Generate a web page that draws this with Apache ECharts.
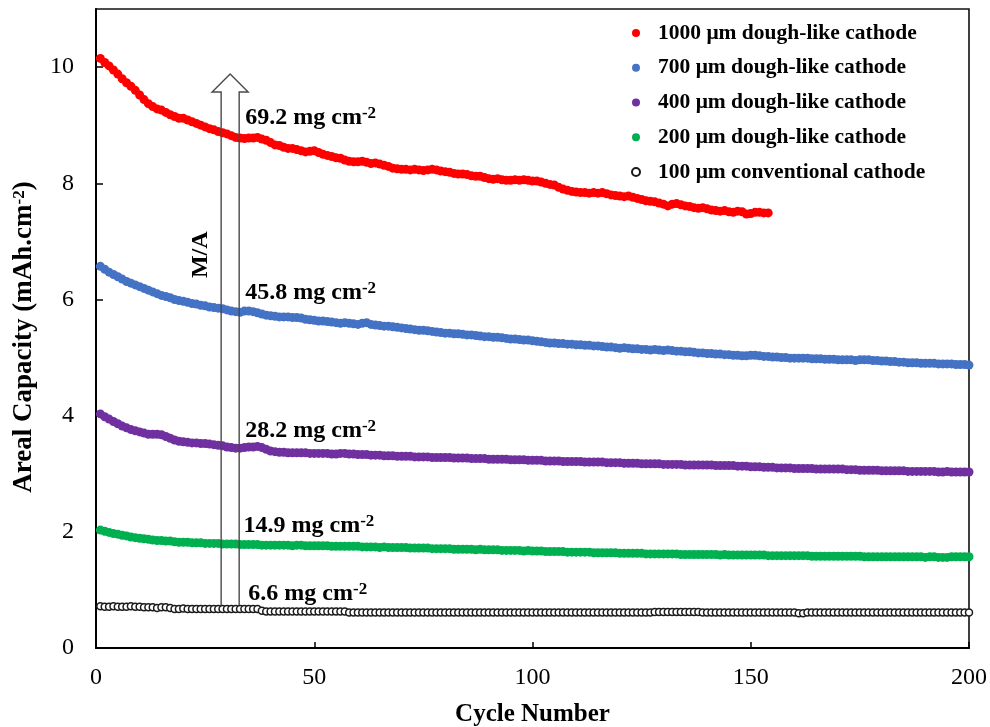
<!DOCTYPE html>
<html>
<head>
<meta charset="utf-8">
<script src="https://cdn.jsdelivr.net/npm/echarts@6/dist/echarts.min.js"></script>
<style>
  html, body { margin: 0; padding: 0; background: #ffffff; }
  #chart { width: 990px; height: 727px; }
</style>
</head>
<body>
<div id="chart"></div>
<script>
// Areal capacity (mAh/cm2) per cycle for each cathode thickness; index 0 = cycle 1
const seriesNames = [
  '1000 μm dough-like cathode',
  '700 μm dough-like cathode',
  '400 μm dough-like cathode',
  '200 μm dough-like cathode',
  '100 μm conventional cathode'
];

const cap1000 = [
  10.15,10.08,10.02,9.95,9.88,9.80,9.73,9.67,9.60,9.52,
  9.44,9.37,9.32,9.28,9.26,9.22,9.18,9.15,9.12,9.12,
  9.09,9.06,9.03,9.00,8.97,8.94,8.92,8.89,8.87,8.85,
  8.82,8.79,8.78,8.77,8.78,8.78,8.79,8.76,8.74,8.70,
  8.66,8.65,8.62,8.60,8.60,8.58,8.56,8.54,8.55,8.56,
  8.53,8.50,8.48,8.46,8.44,8.43,8.40,8.38,8.37,8.37,
  8.38,8.36,8.34,8.35,8.33,8.31,8.29,8.26,8.25,8.24,
  8.24,8.23,8.24,8.23,8.22,8.23,8.24,8.23,8.21,8.20,
  8.19,8.17,8.16,8.16,8.15,8.13,8.12,8.12,8.10,8.08,
  8.07,8.08,8.06,8.05,8.05,8.06,8.05,8.06,8.05,8.04,
  8.04,8.02,8.00,7.98,7.97,7.93,7.90,7.88,7.86,7.85,
  7.84,7.84,7.83,7.84,7.83,7.84,7.82,7.80,7.79,7.78,
  7.77,7.78,7.76,7.74,7.72,7.70,7.69,7.68,7.66,7.64,
  7.61,7.64,7.65,7.63,7.61,7.60,7.58,7.57,7.58,7.56,
  7.54,7.53,7.52,7.53,7.51,7.50,7.52,7.51,7.47,7.48,
  7.50,7.50,7.49,7.49
];

const cap700 = [
  6.57,6.52,6.47,6.43,6.39,6.35,6.31,6.28,6.25,6.22,
  6.19,6.16,6.13,6.10,6.07,6.05,6.03,6.00,5.98,5.97,
  5.95,5.93,5.92,5.90,5.89,5.87,5.86,5.85,5.84,5.82,
  5.80,5.79,5.78,5.80,5.80,5.79,5.77,5.75,5.73,5.72,
  5.71,5.70,5.70,5.70,5.69,5.69,5.68,5.66,5.65,5.64,
  5.63,5.63,5.62,5.61,5.60,5.59,5.60,5.59,5.58,5.57,
  5.59,5.60,5.57,5.56,5.55,5.54,5.54,5.53,5.52,5.51,
  5.50,5.49,5.48,5.47,5.47,5.46,5.45,5.44,5.43,5.42,
  5.42,5.41,5.41,5.40,5.39,5.39,5.38,5.37,5.36,5.36,
  5.35,5.35,5.34,5.33,5.32,5.32,5.31,5.30,5.30,5.29,
  5.28,5.27,5.26,5.25,5.25,5.24,5.24,5.23,5.23,5.22,
  5.22,5.21,5.21,5.20,5.20,5.19,5.18,5.18,5.17,5.16,
  5.17,5.16,5.15,5.15,5.14,5.14,5.13,5.14,5.13,5.12,
  5.13,5.12,5.11,5.11,5.10,5.10,5.09,5.08,5.08,5.07,
  5.07,5.06,5.06,5.05,5.05,5.04,5.04,5.03,5.03,5.04,
  5.04,5.03,5.02,5.02,5.01,5.01,5.00,5.00,4.99,4.99,
  4.99,4.99,4.99,4.98,4.98,4.98,4.97,4.97,4.97,4.96,
  4.96,4.96,4.96,4.95,4.96,4.96,4.96,4.95,4.95,4.94,
  4.94,4.93,4.93,4.92,4.92,4.91,4.91,4.91,4.90,4.90,
  4.90,4.90,4.89,4.89,4.89,4.89,4.88,4.88,4.88,4.87
];

const cap400 = [
  4.03,3.98,3.94,3.90,3.86,3.82,3.79,3.76,3.74,3.72,
  3.70,3.68,3.68,3.68,3.67,3.64,3.61,3.58,3.56,3.55,
  3.54,3.53,3.53,3.52,3.52,3.51,3.50,3.49,3.48,3.46,
  3.45,3.44,3.44,3.45,3.46,3.46,3.47,3.45,3.42,3.39,
  3.38,3.37,3.37,3.36,3.36,3.36,3.36,3.36,3.35,3.35,
  3.35,3.35,3.35,3.34,3.34,3.35,3.35,3.34,3.34,3.33,
  3.33,3.33,3.32,3.32,3.32,3.31,3.31,3.31,3.30,3.30,
  3.30,3.30,3.29,3.29,3.29,3.29,3.28,3.28,3.28,3.28,
  3.28,3.27,3.27,3.27,3.27,3.26,3.26,3.26,3.26,3.25,
  3.25,3.25,3.25,3.25,3.24,3.24,3.24,3.24,3.23,3.23,
  3.23,3.23,3.22,3.22,3.22,3.22,3.21,3.21,3.21,3.21,
  3.21,3.20,3.20,3.20,3.20,3.20,3.19,3.19,3.19,3.19,
  3.18,3.18,3.18,3.18,3.17,3.17,3.17,3.17,3.17,3.16,
  3.16,3.16,3.16,3.16,3.15,3.15,3.15,3.15,3.15,3.15,
  3.15,3.14,3.14,3.14,3.14,3.14,3.13,3.13,3.13,3.12,
  3.12,3.12,3.11,3.11,3.11,3.10,3.10,3.10,3.10,3.09,
  3.09,3.09,3.09,3.09,3.08,3.08,3.08,3.08,3.08,3.08,
  3.08,3.07,3.07,3.07,3.06,3.06,3.06,3.06,3.06,3.05,
  3.05,3.05,3.05,3.05,3.05,3.04,3.04,3.04,3.04,3.04,
  3.04,3.04,3.03,3.03,3.04,3.03,3.03,3.03,3.03,3.03
];

const cap200 = [
  2.03,2.01,1.99,1.97,1.96,1.94,1.93,1.91,1.90,1.89,
  1.88,1.87,1.86,1.85,1.85,1.84,1.84,1.83,1.82,1.82,
  1.82,1.81,1.81,1.81,1.80,1.80,1.80,1.80,1.79,1.79,
  1.79,1.79,1.78,1.78,1.78,1.78,1.78,1.77,1.77,1.77,
  1.77,1.77,1.77,1.77,1.76,1.77,1.77,1.76,1.76,1.76,
  1.76,1.76,1.76,1.75,1.75,1.75,1.75,1.75,1.75,1.75,
  1.74,1.74,1.74,1.74,1.73,1.74,1.73,1.73,1.73,1.73,
  1.73,1.72,1.72,1.72,1.72,1.72,1.71,1.71,1.71,1.71,
  1.71,1.70,1.70,1.70,1.70,1.70,1.69,1.70,1.69,1.69,
  1.69,1.69,1.68,1.68,1.68,1.68,1.68,1.67,1.68,1.67,
  1.67,1.67,1.66,1.66,1.66,1.66,1.66,1.65,1.65,1.65,
  1.65,1.65,1.65,1.64,1.64,1.64,1.64,1.64,1.64,1.63,
  1.63,1.63,1.63,1.63,1.63,1.62,1.62,1.62,1.62,1.62,
  1.62,1.62,1.62,1.61,1.61,1.61,1.61,1.61,1.61,1.61,
  1.61,1.61,1.60,1.61,1.60,1.60,1.60,1.60,1.60,1.60,
  1.60,1.60,1.60,1.59,1.59,1.59,1.59,1.59,1.59,1.59,
  1.59,1.59,1.59,1.58,1.58,1.58,1.58,1.58,1.58,1.58,
  1.58,1.58,1.58,1.58,1.58,1.57,1.57,1.57,1.57,1.57,
  1.57,1.57,1.57,1.57,1.57,1.57,1.57,1.57,1.57,1.56,
  1.57,1.57,1.56,1.56,1.56,1.57,1.57,1.57,1.57,1.57
];

const cap100 = [
  0.72,0.71,0.71,0.72,0.71,0.71,0.71,0.72,0.71,0.71,
  0.70,0.70,0.70,0.69,0.70,0.70,0.69,0.67,0.67,0.68,
  0.67,0.67,0.67,0.67,0.67,0.67,0.67,0.67,0.67,0.67,
  0.67,0.67,0.67,0.67,0.67,0.67,0.67,0.64,0.63,0.63,
  0.63,0.63,0.63,0.63,0.63,0.63,0.63,0.63,0.63,0.63,
  0.63,0.63,0.63,0.63,0.63,0.63,0.63,0.61,0.61,0.61,
  0.61,0.61,0.61,0.61,0.61,0.61,0.61,0.61,0.61,0.61,
  0.61,0.61,0.61,0.61,0.61,0.61,0.61,0.61,0.61,0.61,
  0.61,0.61,0.61,0.61,0.61,0.61,0.61,0.61,0.61,0.61,
  0.61,0.61,0.61,0.61,0.61,0.61,0.61,0.61,0.61,0.61,
  0.61,0.61,0.61,0.61,0.61,0.61,0.61,0.61,0.61,0.61,
  0.61,0.61,0.61,0.61,0.61,0.61,0.61,0.61,0.61,0.61,
  0.61,0.61,0.61,0.61,0.61,0.61,0.61,0.62,0.62,0.62,
  0.62,0.62,0.62,0.62,0.62,0.62,0.62,0.62,0.61,0.61,
  0.61,0.61,0.61,0.61,0.61,0.61,0.61,0.61,0.61,0.61,
  0.61,0.61,0.61,0.61,0.61,0.61,0.61,0.61,0.61,0.61,
  0.60,0.60,0.61,0.61,0.61,0.61,0.61,0.61,0.61,0.61,
  0.61,0.61,0.61,0.61,0.61,0.61,0.61,0.61,0.61,0.61,
  0.61,0.61,0.61,0.61,0.61,0.61,0.61,0.61,0.61,0.61,
  0.61,0.61,0.61,0.61,0.61,0.61,0.61,0.61,0.61,0.61
];

const loadingLabels = ['69.2 mg cm', '45.8 mg cm', '28.2 mg cm', '14.9 mg cm', '6.6 mg cm'];
const xTicks = [0, 50, 100, 150, 200];
const yTicks = [0, 2, 4, 6, 8, 10];

const FONT = '"Liberation Serif", "Times New Roman", serif';
const colors = ['#ff0000', '#4472c4', '#7030a0', '#00b050', '#000000'];
const capacities = [cap1000, cap700, cap400, cap200, cap100];

const chart = echarts.init(document.getElementById('chart'), null, { renderer: 'canvas' });

const series = capacities.map((arr, k) => {
  const hollow = k === 4;
  return {
    name: seriesNames[k],
    type: 'scatter',
    data: arr.map((v, i) => [i + 1, v]),
    symbol: 'circle',
    symbolSize: hollow ? 7 : 9,
    itemStyle: hollow
      ? { color: '#ffffff', borderColor: '#1a1a1a', borderWidth: 1.5, opacity: 1 }
      : { color: colors[k], opacity: 1 },
    emphasis: { disabled: true },
    z: 2 + (4 - k)
  };
});

chart.setOption({
  animation: false,
  backgroundColor: '#ffffff',
  grid: {
    left: 96, right: 21, top: 9, bottom: 79,
    containLabel: false,
    outerBoundsMode: 'none',
    show: true, borderColor: '#111', borderWidth: 1.6, backgroundColor: 'transparent'
  },
  legend: {
    orient: 'vertical',
    left: 626, top: 17,
    itemWidth: 34, itemHeight: 8,
    itemGap: 12.75,
    data: seriesNames,
    selectedMode: false,
    textStyle: { fontFamily: FONT, fontWeight: 'bold', fontSize: 21.5, lineHeight: 22, color: '#000' }
  },
  xAxis: {
    type: 'value',
    min: xTicks[0], max: xTicks[xTicks.length - 1], interval: 50,
    name: 'Cycle Number',
    nameLocation: 'middle', nameGap: 54,
    nameTextStyle: { fontFamily: FONT, fontWeight: 'bold', fontSize: 25, color: '#000' },
    axisLine: { onZero: false, lineStyle: { color: '#000', width: 2 } },
    axisTick: { inside: true, length: 6, lineStyle: { color: '#000', width: 1.5 } },
    axisLabel: { margin: 18, fontFamily: FONT, fontSize: 24, color: '#000' },
    splitLine: { show: false }
  },
  yAxis: {
    type: 'value',
    min: yTicks[0], max: 11, interval: 2,
    name: 'Areal Capacity (mAh.cm{s|-2})',
    nameLocation: 'middle', nameGap: 58,
    nameTextStyle: {
      fontFamily: FONT, fontWeight: 'bold', fontSize: 27, color: '#000',
      padding: [0, 17, 0, 0],
      rich: { s: { fontFamily: FONT, fontWeight: 'bold', fontSize: 17, verticalAlign: 'top', color: '#000' } }
    },
    axisLine: { onZero: false, lineStyle: { color: '#000', width: 2 } },
    axisTick: { inside: true, length: 7, lineStyle: { color: '#000', width: 1.5 } },
    axisLabel: {
      margin: 22, fontFamily: FONT, fontSize: 24, color: '#000',
      showMaxLabel: false,
      formatter: v => (yTicks.indexOf(v) >= 0 ? String(v) : '')
    },
    splitLine: { show: false }
  },
  series: series
});

// Loading annotations and the M/A arrow, placed in data coordinates
const px = (c, v) => chart.convertToPixel({ gridIndex: 0 }, [c, v]);
const labelAnchors = [[34.2, 9.13], [34.2, 6.11], [34.2, 3.74], [33.8, 2.10], [34.9, 0.93]];
const graphics = loadingLabels.map((t, i) => {
  const p = px(labelAnchors[i][0], labelAnchors[i][1]);
  return {
    type: 'text', x: p[0], y: p[1], z: 20,
    style: {
      text: '{b|' + t + '}{s|-2}',
      textAlign: 'left', textVerticalAlign: 'middle',
      rich: {
        b: { fontFamily: FONT, fontWeight: 'bold', fontSize: 24, lineHeight: 25, fill: '#000' },
        s: { fontFamily: FONT, fontWeight: 'bold', fontSize: 17, lineHeight: 17, verticalAlign: 'top', fill: '#000' }
      }
    }
  };
});

const shaftL = 28.67, shaftR = 32.8, headL = 26.6, headR = 34.86, tipX = 30.73;
const tipV = 9.88, headV = 9.57, baseV = 0.74;
graphics.push({
  type: 'polyline', z: 15, silent: true,
  shape: {
    points: [
      px(shaftL, baseV), px(shaftL, headV), px(headL, headV), px(tipX, tipV),
      px(headR, headV), px(shaftR, headV), px(shaftR, baseV)
    ]
  },
  style: { stroke: '#4a4a4a', lineWidth: 1.4, fill: null }
});
const ma = px(23.9, 6.77);
graphics.push({
  type: 'text', x: ma[0], y: ma[1], rotation: Math.PI / 2, z: 20,
  style: {
    text: 'M/A', fontFamily: FONT, fontWeight: 'bold', fontSize: 24, fill: '#000',
    textAlign: 'center', textVerticalAlign: 'middle'
  }
});

chart.setOption({ graphic: graphics });
</script>
</body>
</html>
